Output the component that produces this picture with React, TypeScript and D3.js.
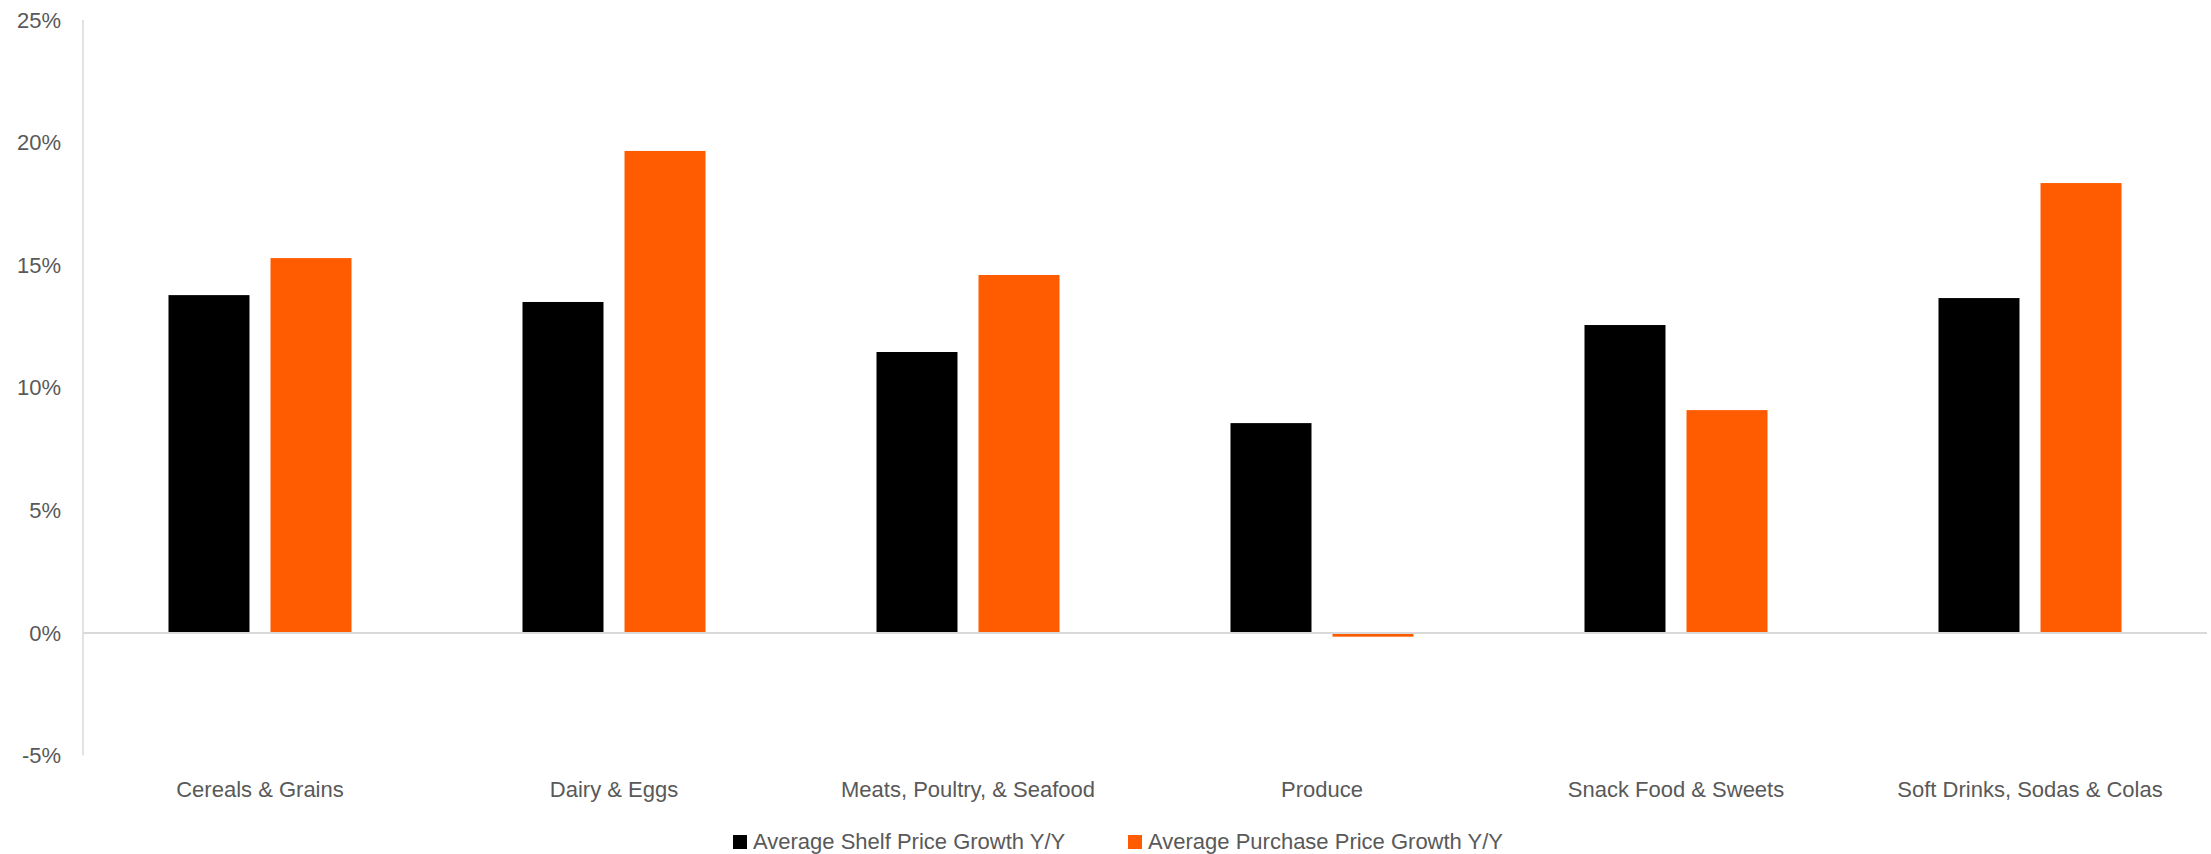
import React from "react";
import * as d3 from "d3";

const categories = [
  "Cereals & Grains",
  "Dairy & Eggs",
  "Meats, Poultry, & Seafood",
  "Produce",
  "Snack Food & Sweets",
  "Soft Drinks, Sodas & Colas",
];
const seriesNames = [
  "Average Shelf Price Growth Y/Y",
  "Average Purchase Price Growth Y/Y",
];
const shelfGrowth = [13.78, 13.5, 11.46, 8.56, 12.56, 13.66];
const purchaseGrowth = [15.29, 19.66, 14.6, -0.15, 9.09, 18.35];
const yTicks = [-5, 0, 5, 10, 15, 20, 25];
const colors = ["#000000", "#FF5B00"];

const W = 2211;
const H = 854;
const left = 83;
const right = 2207;
const top = 20;
const bottom = 755.6;
const font = "'Liberation Sans', Arial, sans-serif";
const textColor = "#595959";
const axisColor = "#d9d9d9";

export default function App() {
  const y = d3.scaleLinear().domain([-5, 25]).range([bottom, top]);
  const x0 = d3
    .scaleBand<string>()
    .domain(categories)
    .range([left, right])
    .paddingInner(0.483)
    .paddingOuter(0.2415);
  const x1 = d3
    .scaleBand<string>()
    .domain(seriesNames)
    .range([0, x0.bandwidth()])
    .paddingInner(0.206);
  const series = [shelfGrowth, purchaseGrowth];
  const y0 = y(0);

  const legendItems = [
    { x: 733, name: seriesNames[0], color: colors[0] },
    { x: 1128, name: seriesNames[1], color: colors[1] },
  ];

  return (
    <svg
      width={W}
      height={H}
      style={{ position: "absolute", left: 0, top: 0, background: "#fff" }}
      fontFamily={font}
    >
      {/* value axis line */}
      <line x1={left} x2={left} y1={top} y2={bottom} stroke={axisColor} strokeWidth={1.5} />
      {yTicks.map((t) => (
        <text
          key={t}
          x={61}
          y={y(t)}
          textAnchor="end"
          dominantBaseline="central"
          fontSize={22}
          fill={textColor}
        >
          {t}%
        </text>
      ))}

      {/* bars */}
      {categories.map((c, i) => (
        <g key={c} transform={`translate(${x0(c)},0)`}>
          {series.map((vals, s) => {
            const v = vals[i];
            const yv = y(v);
            return (
              <rect
                key={s}
                x={x1(seriesNames[s])}
                y={Math.min(yv, y0)}
                width={x1.bandwidth()}
                height={Math.abs(y0 - yv)}
                fill={colors[s]}
              />
            );
          })}
        </g>
      ))}

      {/* zero baseline */}
      <line x1={left} x2={right} y1={y0} y2={y0} stroke={axisColor} strokeWidth={2} />

      {/* category labels */}
      {categories.map((c) => (
        <text
          key={c}
          x={(x0(c) as number) + x0.bandwidth() / 2}
          y={797}
          textAnchor="middle"
          fontSize={22}
          fill={textColor}
        >
          {c}
        </text>
      ))}

      {/* legend */}
      {legendItems.map((it) => (
        <g key={it.name}>
          <rect x={it.x} y={835} width={14} height={14} fill={it.color} />
          <text x={it.x + 20} y={849} fontSize={22} fill={textColor}>
            {it.name}
          </text>
        </g>
      ))}
    </svg>
  );
}
